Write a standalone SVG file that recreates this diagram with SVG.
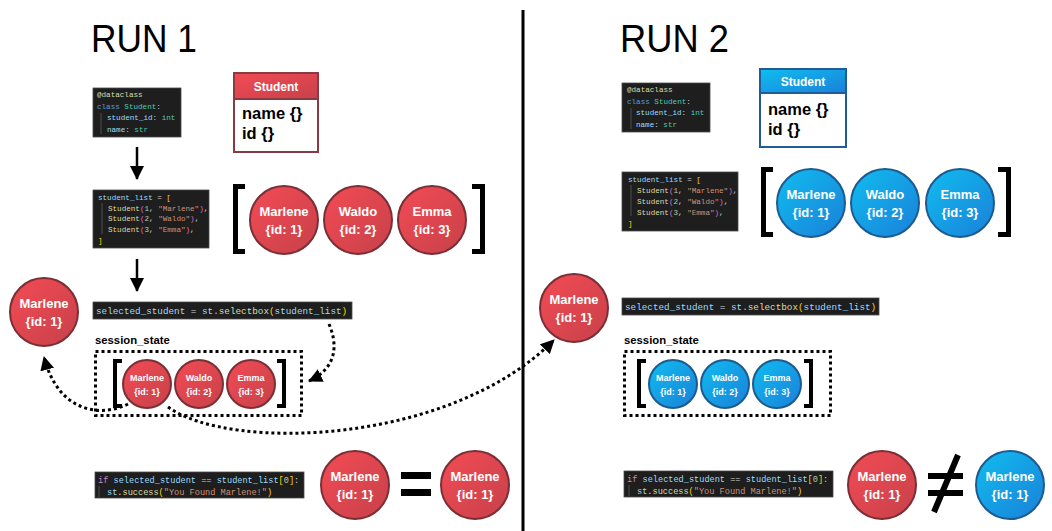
<svg xmlns="http://www.w3.org/2000/svg" width="1052" height="531" viewBox="0 0 1052 531">
<style>
.title{font-family:"Liberation Sans",Arial,sans-serif;font-size:39px;fill:#000}
.code{fill:#1e1e1e;stroke:#4a4a4a;stroke-width:0.8}
.mono{font-family:"Liberation Mono","DejaVu Sans Mono",monospace;fill:#d4d4d4;white-space:pre}
.c7{font-size:7.6px}
.c9{font-size:9.3px}
.c8{font-size:8.6px}
.kw{fill:#569cd6}.ty{fill:#4ec9b0}.va{fill:#9cdcfe}.fn{fill:#dcdcaa}.st{fill:#ce9178}.nu{fill:#b5cea8}.br{fill:#ffd700}.pa{fill:#da70d6}.ctl{fill:#c586c0}
.guide{stroke:#5a5a5a;stroke-width:0.8}
.rc{fill:url(#red);stroke:#7a2e35;stroke-width:2}
.bc{fill:url(#blue);stroke:#1d5a8f;stroke-width:2}
.lbl{font-family:"Liberation Sans",Arial,sans-serif;font-weight:bold;fill:#fff;text-anchor:middle}
.big{font-size:13px}
.small{font-size:9px}
.brk{fill:none;stroke:#000;stroke-width:5}
.brks{fill:none;stroke:#000;stroke-width:4}
.dot{fill:none;stroke:#000;stroke-width:3;stroke-dasharray:3 3}
.solid{fill:none;stroke:#000;stroke-width:2.5}
.bold{font-family:"Liberation Sans",Arial,sans-serif;font-weight:bold;fill:#000}
</style>
<defs>
<linearGradient id="red" x1="0" y1="0" x2="1" y2="1">
<stop offset="0" stop-color="#f34b54"/><stop offset="1" stop-color="#c7414a"/>
</linearGradient>
<linearGradient id="blue" x1="0" y1="0" x2="1" y2="1">
<stop offset="0" stop-color="#10bdf0"/><stop offset="1" stop-color="#1a80d8"/>
</linearGradient>
<marker id="arrow" markerUnits="userSpaceOnUse" markerWidth="14" markerHeight="14" viewBox="0 0 14 14" refX="13" refY="7" orient="auto">
<path d="M0,0 L14,7 L0,14 z" fill="#000"/>
</marker>
</defs>
<rect width="1052" height="531" fill="#fff"/>

<g id="titles">
<text class="title" x="91" y="52" textLength="106" lengthAdjust="spacingAndGlyphs">RUN 1</text>
<text class="title" x="620" y="52" textLength="109" lengthAdjust="spacingAndGlyphs">RUN 2</text>
</g>
<line id="divider" x1="523" y1="10" x2="523" y2="531" stroke="#000" stroke-width="3"/>

<!-- RUN 1 -->
<g id="r1-dataclass">
<rect class="code" x="93" y="88" width="88" height="49"/>
<line class="guide" x1="101" y1="113" x2="101" y2="134"/>
<text class="mono c7" x="97" y="97"><tspan class="fn">@dataclass</tspan></text>
<text class="mono c7" x="97" y="108.5"><tspan class="kw">class</tspan> <tspan class="ty">Student</tspan>:</text>
<text class="mono c7" x="107" y="120"><tspan class="va">student_id</tspan>: <tspan class="ty">int</tspan></text>
<text class="mono c7" x="107" y="131.5"><tspan class="va">name</tspan>: <tspan class="ty">str</tspan></text>
</g>

<g id="r1-classbox">
<rect x="234" y="73" width="84" height="79" fill="#fff" stroke="#8a3a42" stroke-width="2"/>
<rect x="234" y="73" width="84" height="26" fill="url(#red)" stroke="#8a3a42" stroke-width="2"/>
<text class="lbl" x="276" y="91" font-size="12">Student</text>
<text class="bold" x="242" y="119" font-size="16.5">name {}</text>
<text class="bold" x="242" y="139" font-size="16.5">id {}</text>
</g>

<g id="r1-listcode">
<rect class="code" x="93" y="190" width="116" height="58"/>
<line class="guide" x1="102" y1="203" x2="102" y2="234"/>
<text class="mono c7" x="98" y="200"><tspan class="va">student_list</tspan> = <tspan class="br">[</tspan></text>
<text class="mono c7" x="108" y="210.7"><tspan class="fn">Student</tspan><tspan class="pa">(</tspan><tspan class="nu">1</tspan>, <tspan class="st">"Marlene"</tspan><tspan class="pa">)</tspan>,</text>
<text class="mono c7" x="108" y="221.4"><tspan class="fn">Student</tspan><tspan class="pa">(</tspan><tspan class="nu">2</tspan>, <tspan class="st">"Waldo"</tspan><tspan class="pa">)</tspan>,</text>
<text class="mono c7" x="108" y="232"><tspan class="fn">Student</tspan><tspan class="pa">(</tspan><tspan class="nu">3</tspan>, <tspan class="st">"Emma"</tspan><tspan class="pa">)</tspan>,</text>
<text class="mono c7" x="98" y="242.7"><tspan class="br">]</tspan></text>
</g>

<g id="r1-list">
<path class="brk" d="M245 186.5 H235.5 V251.5 H245"/>
<path class="brk" d="M472 186.5 H482.5 V251.5 H472"/>
<circle class="rc" cx="284" cy="220" r="34"/>
<text class="lbl big" x="284" y="216">Marlene</text><text class="lbl big" x="284" y="234">{id: 1}</text>
<circle class="rc" cx="358" cy="220" r="34"/>
<text class="lbl big" x="358" y="216">Waldo</text><text class="lbl big" x="358" y="234">{id: 2}</text>
<circle class="rc" cx="432" cy="220" r="34"/>
<text class="lbl big" x="432" y="216">Emma</text><text class="lbl big" x="432" y="234">{id: 3}</text>
</g>

<g id="r1-selected">
<rect class="code" x="93" y="302" width="259" height="17"/>
<text class="mono c9" x="96" y="314"><tspan class="va">selected_student</tspan> = <tspan class="va">st</tspan>.<tspan class="fn">selectbox</tspan><tspan class="br">(</tspan><tspan class="va">student_list</tspan><tspan class="br">)</tspan></text>
</g>

<g id="r1-picked">
<circle class="rc" cx="44" cy="312" r="34"/>
<text class="lbl big" x="44" y="308">Marlene</text><text class="lbl big" x="44" y="326">{id: 1}</text>
</g>

<g id="r1-session">
<text class="bold" x="95" y="344" font-size="11.3">session_state</text>
<rect class="dot" x="95.5" y="351.5" width="206" height="64"/>
<path class="brks" d="M122 361 H115 V406 H122"/>
<path class="brks" d="M277 361 H284 V406 H277"/>
<circle class="rc" cx="147" cy="384" r="24"/>
<text class="lbl small" x="147" y="381">Marlene</text><text class="lbl small" x="147" y="394.5">{id: 1}</text>
<circle class="rc" cx="199" cy="384" r="24"/>
<text class="lbl small" x="199" y="381">Waldo</text><text class="lbl small" x="199" y="394.5">{id: 2}</text>
<circle class="rc" cx="251" cy="384" r="24"/>
<text class="lbl small" x="251" y="381">Emma</text><text class="lbl small" x="251" y="394.5">{id: 3}</text>
</g>

<g id="r1-compare">
<rect class="code" x="95" y="472" width="209" height="26"/>
<line class="guide" x1="99" y1="486" x2="99" y2="497"/>
<text class="mono c8" x="98" y="482.5"><tspan class="ctl">if</tspan> <tspan class="va">selected_student</tspan> == <tspan class="va">student_list</tspan><tspan class="br">[</tspan><tspan class="nu">0</tspan><tspan class="br">]</tspan>:</text>
<text class="mono c8" x="107" y="495"><tspan class="va">st</tspan>.<tspan class="fn">success</tspan><tspan class="br">(</tspan><tspan class="st">"You Found Marlene!"</tspan><tspan class="br">)</tspan></text>
<circle class="rc" cx="355" cy="485" r="34"/>
<text class="lbl big" x="355" y="481">Marlene</text><text class="lbl big" x="355" y="499">{id: 1}</text>
<rect x="401" y="472" width="30" height="7" fill="#000"/>
<rect x="401" y="489" width="30" height="7" fill="#000"/>
<circle class="rc" cx="475" cy="485" r="34"/>
<text class="lbl big" x="475" y="481">Marlene</text><text class="lbl big" x="475" y="499">{id: 1}</text>
</g>

<!-- RUN 2 -->
<g id="r2-dataclass">
<rect class="code" x="622" y="83" width="88" height="49"/>
<line class="guide" x1="631" y1="108" x2="631" y2="129"/>
<text class="mono c7" x="627" y="92"><tspan class="fn">@dataclass</tspan></text>
<text class="mono c7" x="627" y="103.5"><tspan class="kw">class</tspan> <tspan class="ty">Student</tspan>:</text>
<text class="mono c7" x="636" y="115"><tspan class="va">student_id</tspan>: <tspan class="ty">int</tspan></text>
<text class="mono c7" x="636" y="126.5"><tspan class="va">name</tspan>: <tspan class="ty">str</tspan></text>
</g>

<g id="r2-classbox">
<rect x="760" y="69" width="86" height="78" fill="#fff" stroke="#1f5d99" stroke-width="2"/>
<rect x="760" y="69" width="86" height="24" fill="url(#blue)" stroke="#1f5d99" stroke-width="2"/>
<text class="lbl" x="803" y="86" font-size="12">Student</text>
<text class="bold" x="768" y="115" font-size="16.5">name {}</text>
<text class="bold" x="768" y="135" font-size="16.5">id {}</text>
</g>

<g id="r2-listcode">
<rect class="code" x="622" y="172" width="116" height="59"/>
<line class="guide" x1="631" y1="185" x2="631" y2="216"/>
<text class="mono c7" x="628" y="181.5"><tspan class="va">student_list</tspan> = <tspan class="br">[</tspan></text>
<text class="mono c7" x="637" y="192.5"><tspan class="fn">Student</tspan><tspan class="pa">(</tspan><tspan class="nu">1</tspan>, <tspan class="st">"Marlene"</tspan><tspan class="pa">)</tspan>,</text>
<text class="mono c7" x="637" y="203.5"><tspan class="fn">Student</tspan><tspan class="pa">(</tspan><tspan class="nu">2</tspan>, <tspan class="st">"Waldo"</tspan><tspan class="pa">)</tspan>,</text>
<text class="mono c7" x="637" y="214.5"><tspan class="fn">Student</tspan><tspan class="pa">(</tspan><tspan class="nu">3</tspan>, <tspan class="st">"Emma"</tspan><tspan class="pa">)</tspan>,</text>
<text class="mono c7" x="628" y="225.5"><tspan class="br">]</tspan></text>
</g>

<g id="r2-list">
<path class="brk" d="M773 169.5 H763.5 V234.5 H773"/>
<path class="brk" d="M998 169.5 H1008.5 V234.5 H998"/>
<circle class="bc" cx="811" cy="203" r="34"/>
<text class="lbl big" x="811" y="199">Marlene</text><text class="lbl big" x="811" y="217">{id: 1}</text>
<circle class="bc" cx="885" cy="203" r="34"/>
<text class="lbl big" x="885" y="199">Waldo</text><text class="lbl big" x="885" y="217">{id: 2}</text>
<circle class="bc" cx="960" cy="203" r="34"/>
<text class="lbl big" x="960" y="199">Emma</text><text class="lbl big" x="960" y="217">{id: 3}</text>
</g>

<g id="r2-picked">
<circle class="rc" cx="574" cy="308" r="34"/>
<text class="lbl big" x="574" y="304">Marlene</text><text class="lbl big" x="574" y="322">{id: 1}</text>
</g>

<g id="r2-selected">
<rect class="code" x="622" y="298" width="257" height="17"/>
<text class="mono c9" x="625" y="310"><tspan class="va">selected_student</tspan> = <tspan class="va">st</tspan>.<tspan class="fn">selectbox</tspan><tspan class="br">(</tspan><tspan class="va">student_list</tspan><tspan class="br">)</tspan></text>
</g>

<g id="r2-session">
<text class="bold" x="624" y="344" font-size="11.3">session_state</text>
<rect class="dot" x="624.5" y="351.5" width="206" height="64"/>
<path class="brks" d="M646 361 H639 V406 H646"/>
<path class="brks" d="M804 361 H811 V406 H804"/>
<circle class="bc" cx="673" cy="384" r="24"/>
<text class="lbl small" x="673" y="381">Marlene</text><text class="lbl small" x="673" y="394.5">{id: 1}</text>
<circle class="bc" cx="725" cy="384" r="24"/>
<text class="lbl small" x="725" y="381">Waldo</text><text class="lbl small" x="725" y="394.5">{id: 2}</text>
<circle class="bc" cx="777" cy="384" r="24"/>
<text class="lbl small" x="777" y="381">Emma</text><text class="lbl small" x="777" y="394.5">{id: 3}</text>
</g>

<g id="r2-compare">
<rect class="code" x="624" y="471" width="209" height="26"/>
<line class="guide" x1="629" y1="485" x2="629" y2="496"/>
<text class="mono c8" x="627" y="481.5"><tspan class="ctl">if</tspan> <tspan class="va">selected_student</tspan> == <tspan class="va">student_list</tspan><tspan class="br">[</tspan><tspan class="nu">0</tspan><tspan class="br">]</tspan>:</text>
<text class="mono c8" x="637" y="494"><tspan class="va">st</tspan>.<tspan class="fn">success</tspan><tspan class="br">(</tspan><tspan class="st">"You Found Marlene!"</tspan><tspan class="br">)</tspan></text>
<circle class="rc" cx="882" cy="485" r="34"/>
<text class="lbl big" x="882" y="481">Marlene</text><text class="lbl big" x="882" y="499">{id: 1}</text>
<rect x="928" y="473" width="35" height="6" fill="#000"/>
<rect x="928" y="490" width="35" height="6" fill="#000"/>
<line x1="958" y1="455" x2="934" y2="512" stroke="#000" stroke-width="6"/>
<circle class="bc" cx="1010" cy="485" r="34"/>
<text class="lbl big" x="1010" y="481">Marlene</text><text class="lbl big" x="1010" y="499">{id: 1}</text>
</g>

<g id="connectors">
<line class="solid" x1="137" y1="147" x2="137" y2="179" marker-end="url(#arrow)"/>
<line class="solid" x1="137" y1="259" x2="137" y2="291" marker-end="url(#arrow)"/>
<path class="dot" d="M329 324 C338 345 337 368 309 381" marker-end="url(#arrow)"/>
<path class="dot" d="M128 404 C100 418 58 412 44 357" marker-end="url(#arrow)"/>
<path class="dot" d="M168 407 C230 452 450 445 554 340" marker-end="url(#arrow)"/>
</g>
</svg>
